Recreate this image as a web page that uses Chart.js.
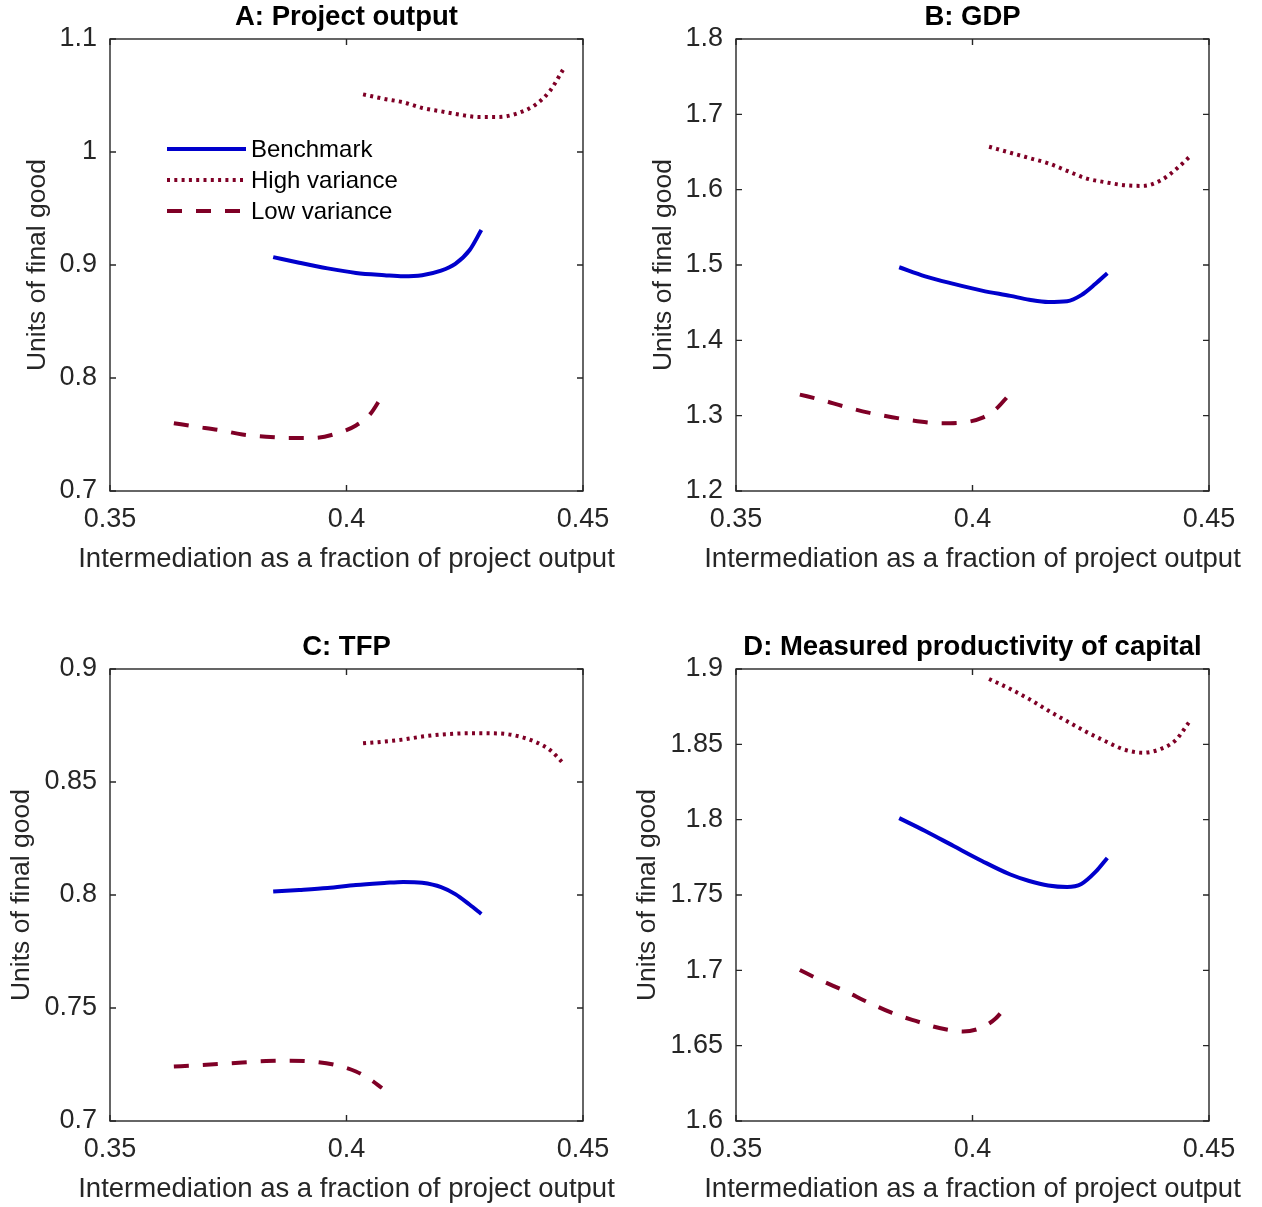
<!DOCTYPE html>
<html>
<head>
<meta charset="utf-8">
<script src="https://cdn.jsdelivr.net/npm/chart.js@4"></script>
<style>
  body { margin: 0; background: #fff; width: 1262px; height: 1207px; position: relative; overflow: hidden; }
  .panel { position: absolute; width: 631px; height: 600px; }
</style>
</head>
<body>
<div class="panel" style="left:0;top:0"><canvas id="chartA" width="631" height="600"></canvas></div>
<div class="panel" style="left:626px;top:0"><canvas id="chartB" width="631" height="600"></canvas></div>
<div class="panel" style="left:0;top:630px"><canvas id="chartC" width="631" height="600"></canvas></div>
<div class="panel" style="left:626px;top:630px"><canvas id="chartD" width="631" height="600"></canvas></div>
<script>
// x grids (intermediation share) for each scenario
const benchX = [0.3845, 0.390, 0.396, 0.402, 0.408, 0.412, 0.416, 0.420, 0.423, 0.426, 0.4285];
const highX = [0.4035, 0.408, 0.412, 0.416, 0.420, 0.424, 0.428, 0.432, 0.436, 0.440, 0.443, 0.4458];
const lowX = [0.3635, 0.368, 0.373, 0.378, 0.383, 0.388, 0.393, 0.398, 0.402, 0.405, 0.4075];

// A: project output
const benchA = [0.907, 0.902, 0.897, 0.893, 0.891, 0.890, 0.891, 0.895, 0.901, 0.913, 0.931];
const highA = [1.051, 1.047, 1.044, 1.039, 1.036, 1.033, 1.031, 1.031, 1.034, 1.042, 1.054, 1.073];
const lowA = [0.760, 0.757, 0.754, 0.750, 0.748, 0.747, 0.747, 0.751, 0.758, 0.768, 0.784];

// B: GDP
const benchB = [1.497, 1.485, 1.475, 1.466, 1.459, 1.454, 1.451, 1.452, 1.460, 1.475, 1.489];
const highB = [1.657, 1.649, 1.642, 1.635, 1.625, 1.615, 1.610, 1.606, 1.605, 1.613, 1.627, 1.643];
const lowB = [1.328, 1.321, 1.312, 1.304, 1.298, 1.293, 1.290, 1.291, 1.297, 1.309, 1.326];

// C: TFP
const benchC = [0.8015, 0.8022, 0.8031, 0.8044, 0.8053, 0.8058, 0.8054, 0.8035, 0.8004, 0.7958, 0.7916];
const highC = [0.8671, 0.8679, 0.8688, 0.8701, 0.8710, 0.8715, 0.8716, 0.8715, 0.8704, 0.8677, 0.8642, 0.8584];
const lowC = [0.7241, 0.7246, 0.7252, 0.7259, 0.7265, 0.7267, 0.7263, 0.7246, 0.7219, 0.7184, 0.7146];

// D: measured productivity of capital
const benchD = [1.801, 1.7925, 1.7825, 1.7726, 1.7636, 1.7593, 1.7563, 1.7553, 1.7573, 1.7653, 1.7746];
const highD = [1.8934, 1.8867, 1.8800, 1.8724, 1.8653, 1.8584, 1.8522, 1.8466, 1.8444, 1.8472, 1.8529, 1.8648];
const lowD = [1.7002, 1.6933, 1.6863, 1.6787, 1.6717, 1.6664, 1.6617, 1.6594, 1.6621, 1.6684, 1.6777];

const xTicks = [0.35, 0.4, 0.45];
const yTicksA = [0.7, 0.8, 0.9, 1, 1.1];
const yTicksB = [1.2, 1.3, 1.4, 1.5, 1.6, 1.7, 1.8];
const yTicksC = [0.7, 0.75, 0.8, 0.85, 0.9];
const yTicksD = [1.6, 1.65, 1.7, 1.75, 1.8, 1.85, 1.9];

const seriesNames = ["Benchmark", "High variance", "Low variance"];
const xLabel = "Intermediation as a fraction of project output";
const yLabel = "Units of final good";

const FONT = "'Liberation Sans', Arial, Helvetica, sans-serif";
const AX = "#262626";
const BLUE = "#0000cc";
const WINE = "#7f0026";

const pts = (xs, ys) => xs.map((x, i) => ({ x: x, y: ys[i] }));

// MATLAB-style box with inward ticks on all four sides, plus the x label
// (drawn here so it is not squeezed to the width of the plot area)
const boxPlugin = {
  id: "matlabBox",
  afterDatasetsDraw(chart) {
    const { ctx, chartArea: a, scales } = chart;
    const t = 6;
    ctx.save();
    ctx.strokeStyle = AX;
    ctx.lineWidth = 1.4;
    ctx.strokeRect(a.left, a.top, a.right - a.left, a.bottom - a.top);
    ctx.beginPath();
    scales.x.ticks.forEach(tk => {
      const px = scales.x.getPixelForValue(tk.value);
      ctx.moveTo(px, a.bottom); ctx.lineTo(px, a.bottom - t);
      ctx.moveTo(px, a.top); ctx.lineTo(px, a.top + t);
    });
    scales.y.ticks.forEach(tk => {
      const py = scales.y.getPixelForValue(tk.value);
      ctx.moveTo(a.left, py); ctx.lineTo(a.left + t, py);
      ctx.moveTo(a.right, py); ctx.lineTo(a.right - t, py);
    });
    ctx.stroke();

    ctx.fillStyle = AX;
    ctx.font = "27.5px " + FONT;
    ctx.textAlign = "center";
    ctx.textBaseline = "alphabetic";
    ctx.fillText(xLabel, (a.left + a.right) / 2, a.bottom + 76);
    ctx.restore();
  }
};

// legend drawn inside the plot area of panel A
const insideLegend = {
  id: "insideLegend",
  afterDatasetsDraw(chart) {
    const { ctx, chartArea: a } = chart;
    ctx.save();
    chart.data.datasets.forEach((ds, i) => {
      const yy = a.top + 110 + i * 31;
      ctx.strokeStyle = ds.borderColor;
      ctx.lineWidth = ds.borderWidth;
      ctx.setLineDash(ds.borderDash || []);
      ctx.beginPath();
      ctx.moveTo(a.left + 57, yy);
      ctx.lineTo(a.left + 136, yy);
      ctx.stroke();
      ctx.setLineDash([]);
      ctx.fillStyle = "#000";
      ctx.font = "24px " + FONT;
      ctx.textBaseline = "middle";
      ctx.textAlign = "left";
      ctx.fillText(ds.label, a.left + 141, yy + 1);
    });
    ctx.restore();
  }
};

function makePanel(id, title, yTicks, bench, high, low, yTitlePad, withLegend) {
  const ctx = document.getElementById(id);
  return new Chart(ctx, {
    type: "line",
    data: {
      datasets: [
        { label: seriesNames[0], data: pts(benchX, bench), borderColor: BLUE, borderWidth: 4 },
        { label: seriesNames[1], data: pts(highX, high), borderColor: WINE, borderWidth: 4, borderDash: [3, 4.3] },
        { label: seriesNames[2], data: pts(lowX, low), borderColor: WINE, borderWidth: 4, borderDash: [15, 14] },
      ],
    },
    options: {
      responsive: false,
      animation: false,
      layout: { padding: { left: 0, right: 48, top: 0, bottom: 0 } },
      elements: {
        point: { radius: 0 },
        line: { cubicInterpolationMode: "monotone", borderCapStyle: "butt", fill: false },
      },
      plugins: {
        legend: { display: false },
        tooltip: { enabled: false },
        title: {
          display: true,
          text: title,
          fullSize: false,
          color: "#000",
          font: { family: FONT, size: 27.5, weight: "bold", lineHeight: 1 },
          padding: { top: 4, bottom: 7.5 },
        },
      },
      scales: {
        x: {
          type: "linear",
          min: 0.35,
          max: 0.45,
          afterBuildTicks: s => { s.ticks = xTicks.map(v => ({ value: v })); },
          afterFit: s => { s.height = 109; s.paddingLeft = 0; s.paddingRight = 0; },
          grid: { display: false, drawTicks: false },
          border: { display: false },
          ticks: {
            color: AX, padding: 12, maxRotation: 0, autoSkip: false,
            font: { family: FONT, size: 27 },
            callback: v => String(v),
          },
          title: { display: false },
        },
        y: {
          type: "linear",
          min: yTicks[0],
          max: yTicks[yTicks.length - 1],
          afterBuildTicks: s => { s.ticks = yTicks.map(v => ({ value: v })); },
          afterFit: s => { s.width = 110; s.paddingTop = 0; s.paddingBottom = 0; },
          grid: { display: false, drawTicks: false },
          border: { display: false },
          ticks: {
            color: AX, padding: 13, autoSkip: false,
            font: { family: FONT, size: 27 },
            callback: v => String(v),
          },
          title: {
            display: true,
            text: yLabel,
            color: AX,
            font: { family: FONT, size: 26.5, lineHeight: 1.2 },
            padding: { top: yTitlePad, bottom: 0 },
          },
        },
      },
    },
    plugins: withLegend ? [boxPlugin, insideLegend] : [boxPlugin],
  });
}

makePanel("chartA", "A: Project output", yTicksA, benchA, highA, lowA, 22, true);
makePanel("chartB", "B: GDP", yTicksB, benchB, highB, lowB, 22, false);
makePanel("chartC", "C: TFP", yTicksC, benchC, highC, lowC, 6, false);
makePanel("chartD", "D: Measured productivity of capital", yTicksD, benchD, highD, lowD, 6, false);
</script>
</body>
</html>
